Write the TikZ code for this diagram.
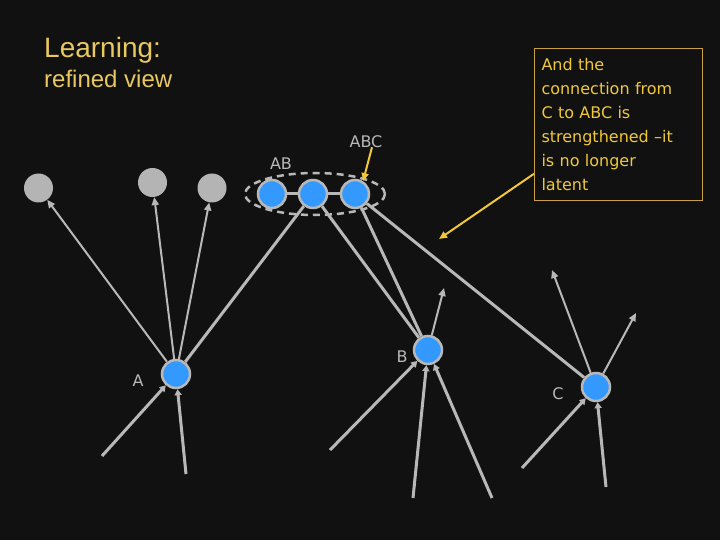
\documentclass[tikz,border=0pt]{standalone}
\usepackage{fontspec}
\setmainfont{Liberation Sans}
\newfontfamily\dvs{DejaVu Sans}
\usetikzlibrary{arrows.meta,shapes.geometric,calc}
\definecolor{bgc}{HTML}{111111}
\definecolor{gnode}{HTML}{B4B4B4}
\definecolor{bnode}{HTML}{3399FF}
\definecolor{lgray}{HTML}{B8B8B8}
\definecolor{ylw}{HTML}{F0C838}
\definecolor{ttl}{HTML}{E8C860}
\definecolor{boxedge}{HTML}{C8A040}
\tikzset{
  graynode/.style={circle,fill=gnode,draw=none,minimum size=29pt,inner sep=0pt},
  bluenode/.style={circle,fill=bnode,draw=lgray,line width=2.5pt,minimum size=28pt,inner sep=0pt},
  lbl/.style={text=lgray,font=\dvs\fontsize{16}{18}\selectfont,inner sep=0pt},
  thinarrow/.style={draw=lgray,line width=2pt,-{Triangle[length=8pt,width=7pt]}},
  thickarrow/.style={draw=lgray,line width=3pt,-{Triangle[length=6pt,width=7pt]}},
  thickline/.style={draw=lgray,line width=3pt},
  yarrow/.style={draw=ylw,line width=2pt,-{Triangle[length=8pt,width=7pt]}},
}
\begin{document}
\begin{tikzpicture}[x=1pt,y=-1pt]
\useasboundingbox[fill=bgc] (0,0) rectangle (720,540);
% title
\node[anchor=base west,inner sep=0pt,text=ttl,font=\fontsize{28}{30}\selectfont] (t1) at (44,58) {Learning:};
\node[anchor=base west,inner sep=0pt,text=ttl,font=\fontsize{24}{26}\selectfont] (t2) at (44,88) {refined view};
% text box
\node[anchor=north west,draw=boxedge,line width=1pt,text=ylw,text width=154pt,align=left,
      inner xsep=7pt,inner ysep=10pt,font=\dvs\fontsize{16}{24}\selectfont] (box) at (534,48)
 {And the\\connection from\\C to ABC is\\strengthened –it\\is no longer\\latent};
% gray nodes
\node[graynode] (g1) at (38.5,188) {};
\node[graynode] (g2) at (152.5,182.5) {};
\node[graynode] (g3) at (212,188) {};
% group ellipse
\node[ellipse,draw=lgray,line width=2.5pt,dash pattern=on 7pt off 5pt,minimum width=140pt,minimum height=42pt,inner sep=0pt] (grp) at (315,194) {};
% top blue nodes
\node[bluenode] (ab1) at (272,194) {};
\node[bluenode] (ab2) at (313,194) {};
\node[bluenode] (abc) at (355,194) {};
\draw[thickline] (ab1) -- (ab2);
\draw[thickline] (ab2) -- (abc);
% labels
\node[lbl] (lab) at (281,164) {AB};
\node[lbl] (labc) at (366,142) {ABC};
% lower nodes
\node[bluenode] (A) at (176,374) {};
\node[bluenode] (B) at (428,350) {};
\node[bluenode] (C) at (596,387) {};
\node[lbl] (la) at (138,381) {A};
\node[lbl] (lb) at (402,357) {B};
\node[lbl] (lc) at (558,394) {C};
% free ends
\coordinate (ia1) at (102,456);
\coordinate (ia2) at (186,474);
\coordinate (ib1) at (330,450);
\coordinate (ib2) at (413,498);
\coordinate (ib3) at (492,498);
\coordinate (ic1) at (522,468);
\coordinate (ic2) at (606,487);
\coordinate (ob1) at (444,288);
\coordinate (oc1) at (552,270);
\coordinate (oc2) at (636,313);
\coordinate (ytip) at (439,239);
% A outputs
\draw[thinarrow] (A) -- (g1);
\draw[thinarrow] (A) -- (g2);
\draw[thinarrow] (A) -- (g3);
\draw[thickline] (A) -- (ab2);
% B and C links to top
\draw[thickline] (B) -- (ab2);
\draw[thickline] (B) -- (abc);
\draw[thickline] (C) -- (abc);
% outputs
\draw[thinarrow] (B) -- (ob1);
\draw[thinarrow] (C) -- (oc1);
\draw[thinarrow] (C) -- (oc2);
% inputs
\draw[thickarrow] (ia1) -- (A);
\draw[thickarrow] (ia2) -- (A);
\draw[thickarrow] (ib1) -- (B);
\draw[thickarrow] (ib2) -- (B);
\draw[thickarrow] (ib3) -- (B);
\draw[thickarrow] (ic1) -- (C);
\draw[thickarrow] (ic2) -- (C);
% yellow arrows
\draw[yarrow] ($(box.north west)!0.82!(box.south west)$) -- (ytip);
\draw[yarrow] ([xshift=6pt,yshift=1pt]labc.south) -- (abc.58);
\end{tikzpicture}
\end{document}
